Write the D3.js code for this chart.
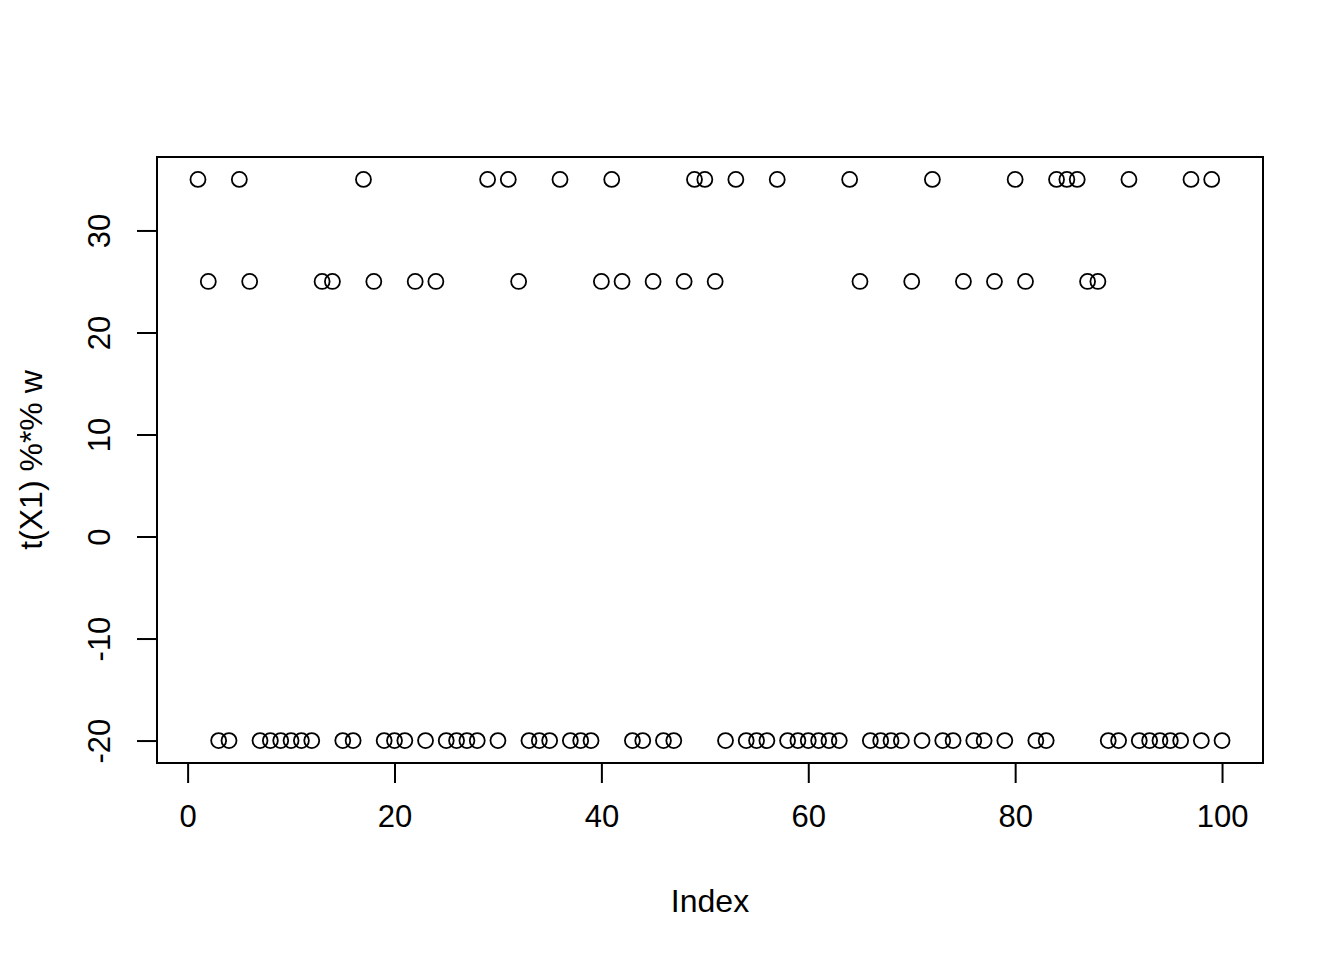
<!DOCTYPE html>
<html>
<head>
<meta charset="utf-8">
<script src="https://cdn.jsdelivr.net/npm/d3@7"></script>
<style>
  body { margin: 0; background: #fff; }
  text { font-family: "Liberation Sans", Arial, sans-serif; fill: #000; }
</style>
</head>
<body>
<div id="chart"></div>
<script>
// indices that land on each level, everything else sits at -20
const idxAt35 = [1, 5, 17, 29, 31, 36, 41, 49, 50, 53, 57, 64, 72, 80, 84, 85, 86, 91, 97, 99];
const idxAt25 = [2, 6, 13, 14, 18, 22, 24, 32, 40, 42, 45, 48, 51, 65, 70, 75, 78, 81, 87, 88];
const xTicks = [0, 20, 40, 60, 80, 100];
const yTicks = [-20, -10, 0, 10, 20, 30];

const values = d3.range(1, 101).map(i =>
  idxAt35.includes(i) ? 35 : idxAt25.includes(i) ? 25 : -20);
const points = values.map((v, i) => ({ i: i + 1, v }));

const width = 1344, height = 960;
const box = { left: 157, right: 1263, top: 157, bottom: 763 };

const svg = d3.select("#chart").append("svg")
  .attr("width", width)
  .attr("height", height);

// R-style 4% padding on each side
const xExt = d3.extent(points, d => d.i), xPad = (xExt[1] - xExt[0]) * 0.04;
const yExt = d3.extent(points, d => d.v), yPad = (yExt[1] - yExt[0]) * 0.04;

const x = d3.scaleLinear()
  .domain([xExt[0] - xPad, xExt[1] + xPad])
  .range([box.left, box.right]);
const y = d3.scaleLinear()
  .domain([yExt[0] - yPad, yExt[1] + yPad])
  .range([box.bottom, box.top]);

// plot frame
svg.append("rect")
  .attr("x", box.left).attr("y", box.top)
  .attr("width", box.right - box.left)
  .attr("height", box.bottom - box.top)
  .attr("fill", "none").attr("stroke", "#000").attr("stroke-width", 2);

// x axis
const xAxis = svg.append("g")
  .attr("transform", `translate(0,${box.bottom})`)
  .call(d3.axisBottom(x).tickValues(xTicks).tickSize(20).tickPadding(22));
xAxis.select(".domain")
  .attr("d", `M${x(0)},0H${x(100)}`)
  .attr("stroke-width", 2);
xAxis.selectAll(".tick line").attr("stroke-width", 2);
xAxis.selectAll(".tick text").style("font-size", "31px");

// y axis, labels rotated like base R
const yAxis = svg.append("g")
  .attr("transform", `translate(${box.left},0)`)
  .call(d3.axisLeft(y).tickValues(yTicks).tickSize(20).tickFormat(d => String(d)));
yAxis.select(".domain")
  .attr("d", `M0,${y(-20)}V${y(30)}`)
  .attr("stroke-width", 2);
yAxis.selectAll(".tick line").attr("stroke-width", 2);
yAxis.selectAll(".tick text")
  .style("font-size", "31px")
  .attr("x", null).attr("dy", null)
  .attr("text-anchor", "middle")
  .attr("transform", "translate(-57,0) rotate(-90)")
  .attr("y", 10);

// points
svg.append("g").selectAll("circle")
  .data(points)
  .enter().append("circle")
  .attr("cx", d => x(d.i))
  .attr("cy", d => y(d.v))
  .attr("r", 7.5)
  .attr("fill", "none")
  .attr("stroke", "#000")
  .attr("stroke-width", 1.8);

// axis titles
svg.append("text")
  .attr("x", (box.left + box.right) / 2)
  .attr("y", 912)
  .attr("text-anchor", "middle")
  .style("font-size", "32px")
  .text("Index");

svg.append("text")
  .attr("transform", `translate(42,${(box.top + box.bottom) / 2}) rotate(-90)`)
  .attr("text-anchor", "middle")
  .style("font-size", "32px")
  .text("t(X1) %*% w");
</script>
</body>
</html>
